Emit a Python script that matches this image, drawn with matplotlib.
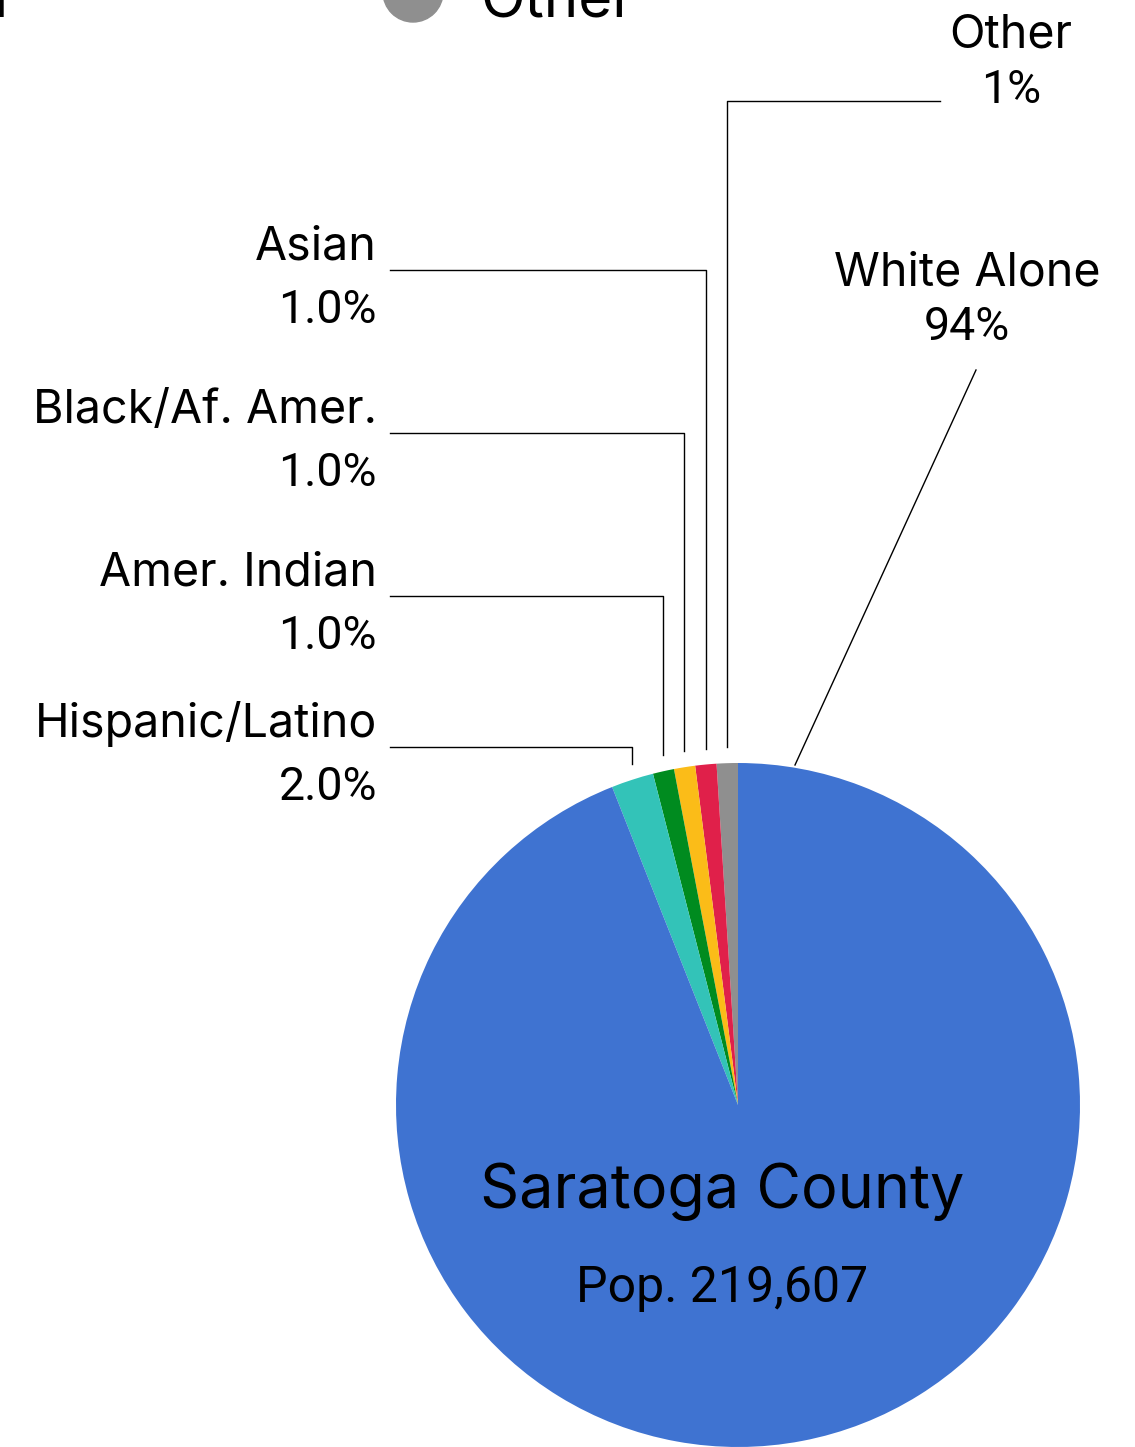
import matplotlib.pyplot as plt
import numpy as np

plt.rcParams['font.family'] = ['Inter', 'DejaVu Sans']
num_font = ['Roboto', 'DejaVu Sans']

labels = ['Other', 'Asian', 'Black/Af. Amer.', 'Amer. Indian', 'Hispanic/Latino', 'White Alone']
values = [1.0, 1.0, 1.0, 1.0, 2.0, 94.0]
pct_text = ['1%', '1.0%', '1.0%', '1.0%', '2.0%', '94%']
colors = ['#8f8f8f', '#e0204a', '#fbbc18', '#008b1f', '#33c3b8', '#3f73d1']

W, H = 1135, 1447
fig = plt.figure(figsize=(W / 100, H / 100), dpi=100)
ax = fig.add_axes([0, 0, 1, 1])

def Y(y):
    return H - y

cx, cy, r = 738, Y(1105), 342
wedges, _ = ax.pie(values, colors=colors, startangle=90, counterclock=True,
                   center=(cx, cy), radius=r, frame=True,
                   wedgeprops=dict(linewidth=0))
ax.set_xlim(0, W)
ax.set_ylim(0, H)
ax.axis('off')

fs = 33.5
# left-side labels with elbow leaders
left = {1: 270, 2: 433, 3: 596, 4: 747}
for i, yl in left.items():
    w = wedges[i]
    th = np.radians((w.theta1 + w.theta2) / 2)
    xe = cx + r * np.cos(th)
    ye = cy + r * np.sin(th) + 16
    ax.plot([390, xe, xe], [Y(yl), Y(yl), ye], color='black', lw=1)
    ax.text(377, Y(yl - 10), labels[i], ha='right', va='baseline', fontsize=fs)
    ax.text(377, Y(yl + 53), pct_text[i], ha='right', va='baseline', fontsize=fs,
            family=num_font)

# Other label (top right)
w = wedges[0]
th = np.radians((w.theta1 + w.theta2) / 2)
xe = cx + r * np.cos(th)
ax.plot([940, xe, xe], [Y(101), Y(101), cy + r * np.sin(th) + 16], color='black', lw=1)
ax.text(1011, Y(47), labels[0], ha='center', va='baseline', fontsize=fs)
ax.text(1011, Y(103), pct_text[0], ha='center', va='baseline', fontsize=fs, family=num_font)

# White Alone label
ax.plot([976, 795], [Y(370), Y(765)], color='black', lw=1)
ax.text(967, Y(285), labels[5], ha='center', va='baseline', fontsize=fs)
ax.text(967, Y(340), pct_text[5], ha='center', va='baseline', fontsize=fs, family=num_font)

# centre text
ax.text(722, Y(1208), 'Saratoga County', ha='center', va='baseline', fontsize=44)
ax.text(722, Y(1302), 'Pop. 219,607', ha='center', va='baseline', fontsize=36,
        family=num_font)

# legend remnants cut off at the top of the canvas (as in the original)
ax.add_patch(plt.Circle((413, Y(-8)), 30, color='#8f8f8f', clip_on=False))
ax.text(481, Y(17), 'Other', ha='left', va='baseline', fontsize=42, clip_on=False)
ax.text(-6, Y(17), 'l', ha='left', va='baseline', fontsize=42, clip_on=False)

fig.savefig('out.png', dpi=100)
